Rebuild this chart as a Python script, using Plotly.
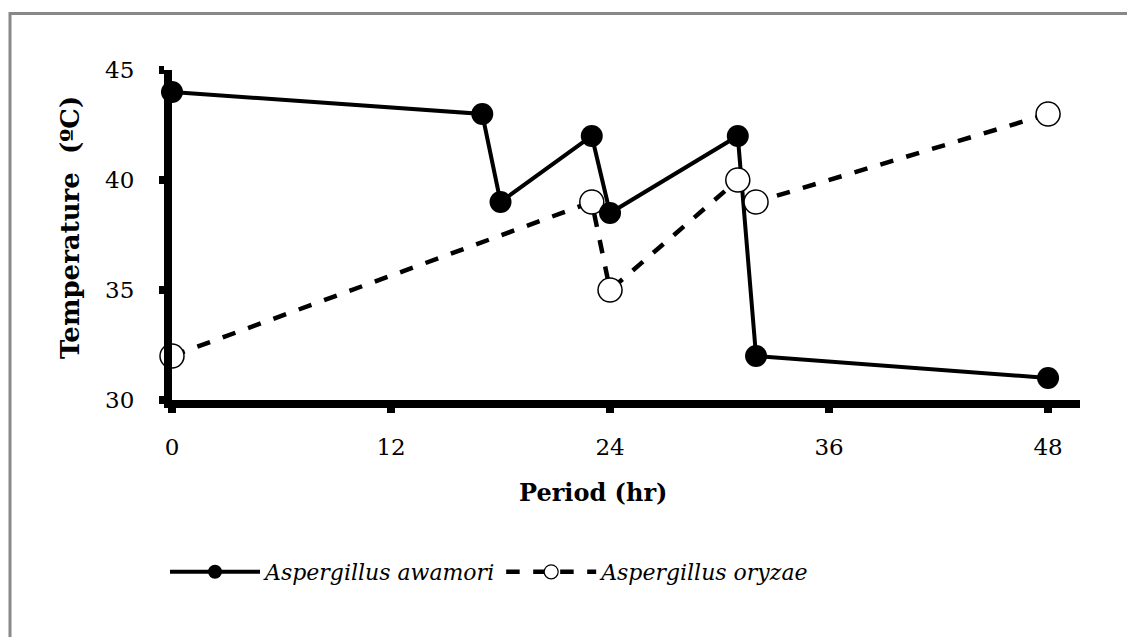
import plotly.graph_objects as go

# Data
awamori_x = [0, 17, 18, 23, 24, 31, 32, 48]
awamori_y = [44, 43, 39, 42, 38.5, 42, 32, 31]
oryzae_x = [0, 23, 24, 31, 32, 48]
oryzae_y = [32, 39, 35, 40, 39, 43]
x_ticks = [0, 12, 24, 36, 48]
y_ticks = [30, 35, 40, 45]
name_a = "Aspergillus awamori"
name_o = "Aspergillus oryzae"

FONT = "DejaVu Serif"
OFF = 8  # page body margin
W, H = 1135 - OFF, 637 - OFF
L, R, T, B = 172 - OFF, 1135 - 1080, 70 - OFF, 637 - 400
pw = W - L - R
ph = H - T - B

def px_to_paper_x(px):
    return (px - OFF - L) / pw

def py_to_paper_y(py):
    return (H - B - (py - OFF)) / ph

fig = go.Figure()

# lines
fig.add_trace(go.Scatter(x=oryzae_x, y=oryzae_y, mode="lines",
                         line=dict(color="black", width=4.5, dash="dash"),
                         showlegend=False, cliponaxis=False, hoverinfo="skip"))
fig.add_trace(go.Scatter(x=awamori_x, y=awamori_y, mode="lines",
                         line=dict(color="black", width=4),
                         showlegend=False, cliponaxis=False, hoverinfo="skip"))
# markers
fig.add_trace(go.Scatter(x=oryzae_x, y=oryzae_y, mode="markers",
                         marker=dict(symbol="circle", size=24, color="white",
                                     line=dict(color="black", width=1.5)),
                         showlegend=False, cliponaxis=False))
fig.add_trace(go.Scatter(x=awamori_x, y=awamori_y, mode="markers",
                         marker=dict(symbol="circle", size=22, color="black"),
                         showlegend=False, cliponaxis=False))
# legend entries
fig.add_trace(go.Scatter(x=[None], y=[None], mode="lines+markers", name=f"<i>{name_a}</i>",
                         line=dict(color="black", width=4),
                         marker=dict(symbol="circle", size=14, color="black")))
fig.add_trace(go.Scatter(x=[None], y=[None], mode="lines+markers", name=f"<i>{name_o}</i>",
                         line=dict(color="black", width=4.5, dash="dash"),
                         marker=dict(symbol="circle", size=14, color="white",
                                     line=dict(color="black", width=1.2))))

fig.update_layout(
    width=W, height=H,
    margin=dict(l=L, r=R, t=T, b=B, autoexpand=False),
    paper_bgcolor="white", plot_bgcolor="white",
    font=dict(family=FONT, size=23, color="black"),
    showlegend=True,
    legend=dict(orientation="h", x=px_to_paper_x(165), y=py_to_paper_y(572),
                xanchor="left", yanchor="middle",
                font=dict(family=FONT, size=22, color="black"),
                itemwidth=90, bgcolor="rgba(0,0,0,0)"),
)

fig.update_xaxes(range=[0, 49.75], tickvals=x_ticks, ticktext=[str(v) for v in x_ticks],
                 showgrid=False, zeroline=False, showline=True, linecolor="black", linewidth=8,
                 ticks="outside", ticklen=5, tickwidth=8, tickcolor="black",
                 tickfont=dict(family=FONT, size=23), ticklabelstandoff=14)
fig.update_yaxes(range=[30, 45], tickvals=y_ticks, ticktext=[str(v) for v in y_ticks],
                 showgrid=False, zeroline=False, showline=True, linecolor="black", linewidth=8,
                 ticks="outside", ticklen=5, tickwidth=8, tickcolor="black",
                 tickfont=dict(family=FONT, size=23), ticklabelstandoff=20)

# axis titles
fig.add_annotation(text="<b>Period (hr)</b>", xref="paper", yref="paper",
                   x=px_to_paper_x(593), y=py_to_paper_y(492), showarrow=False,
                   font=dict(family=FONT, size=24, color="black"),
                   xanchor="center", yanchor="middle")
fig.add_annotation(text="<b>Temperature  (ºC)</b>", xref="paper", yref="paper",
                   x=px_to_paper_x(70), y=py_to_paper_y(228), showarrow=False, textangle=-90,
                   font=dict(family=FONT, size=26, color="black"),
                   xanchor="center", yanchor="middle")

# outer gray border (left and top visible)
fig.add_shape(type="rect", xref="paper", yref="paper", layer="above",
              x0=px_to_paper_x(10), x1=px_to_paper_x(1300),
              y0=py_to_paper_y(800), y1=py_to_paper_y(13.5),
              line=dict(color="#888888", width=3), fillcolor="rgba(0,0,0,0)")

fig.write_html("out.html")
